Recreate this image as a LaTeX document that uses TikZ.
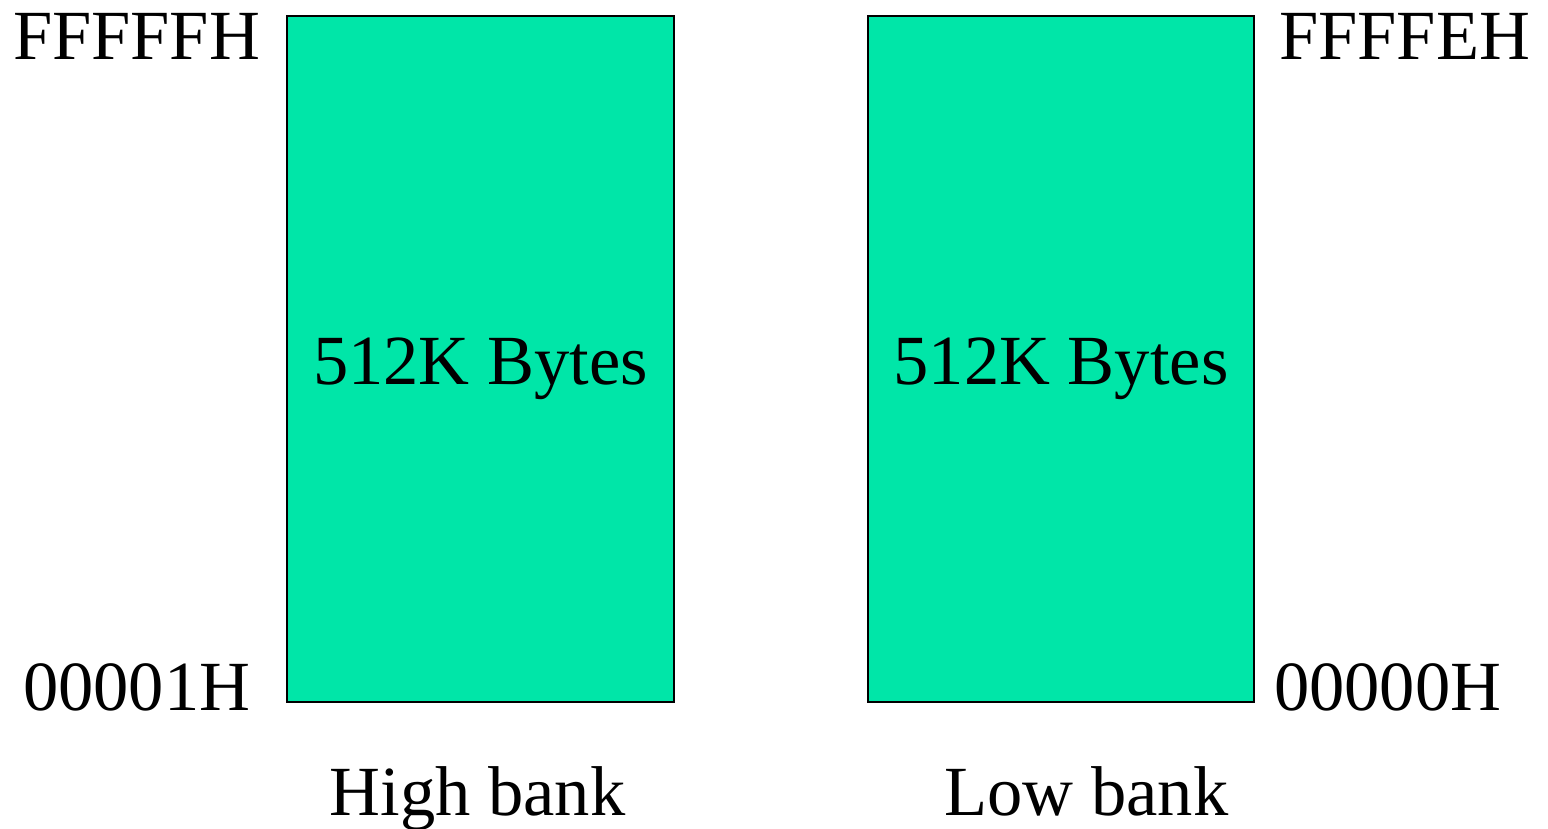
\documentclass[tikz,border=0pt]{standalone}
\usepackage{fontspec}
\setmainfont{Liberation Serif}
\definecolor{bankfill}{RGB}{0,230,168}
\begin{document}
\begin{tikzpicture}[x=1pt,y=1pt,
  bank/.style={draw=black,line width=1.6pt,fill=bankfill,rectangle,inner sep=0pt,minimum height=686pt},
  lbl/.style={inner sep=0pt,font=\fontsize{70.5}{80}\selectfont}]
\useasboundingbox (0,0) rectangle (1548,828);
\node[bank,minimum width=387pt] (high) at (480.5,469) {};
\node[bank,minimum width=386pt] (low) at (1061,469) {};
\node[lbl,anchor=base] (hbytes) at (480.5,443) {512K Bytes};
\node[lbl,anchor=base] (lbytes) at (1061,443) {512K Bytes};
\node[lbl,anchor=base west] (hmax) at (13,768) {FFFFFH};
\node[lbl,anchor=base west] (hmin) at (23,118) {00001H};
\node[lbl,anchor=base west] (lmax) at (1279,768) {FFFFEH};
\node[lbl,anchor=base west] (lmin) at (1274,118) {00000H};
\node[lbl,anchor=base] (hname) at (477.5,13) {High bank};
\node[lbl,anchor=base] (lname) at (1086.5,13) {Low bank};
\end{tikzpicture}
\end{document}
